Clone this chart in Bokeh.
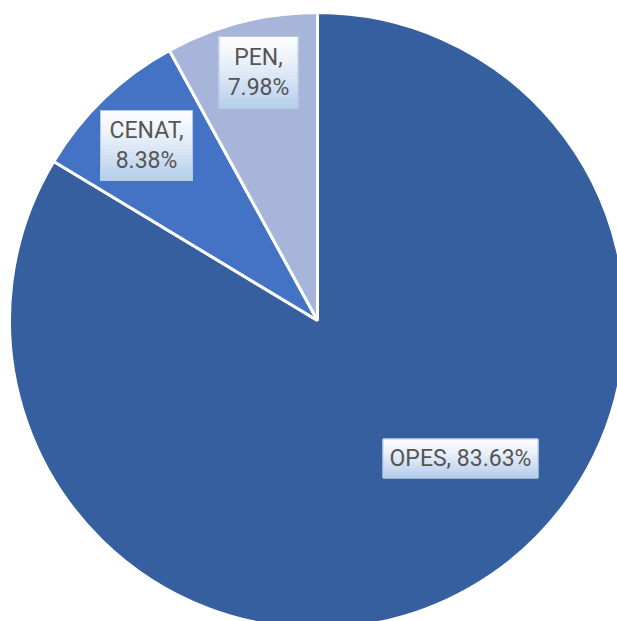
import math
from bokeh.plotting import figure
from bokeh.models import Range1d
from bokeh.core.properties import value
from bokeh.embed import file_html
from bokeh.resources import INLINE

# ---- data ----
categories = ["OPES", "CENAT", "PEN"]
shares = [83.63, 8.38, 7.98]
colors = ["#365F9F", "#4472C4", "#A7B5DA"]

# ---- layout (pixels inside the figure, y up) ----
W, H = 617, 621
CX, CY, R = 317, 301, 308
# label box centres and sizes (w, h)
label_pos = {"OPES": (460, 163), "CENAT": (146, 476), "PEN": (258, 549)}
label_size = {"OPES": (155, 39), "CENAT": (92, 70), "PEN": (79, 72)}
label_multiline = {"OPES": False, "CENAT": True, "PEN": True}

p = figure(width=W, height=H, x_range=Range1d(0, W), y_range=Range1d(0, H),
           output_backend="svg", toolbar_location=None, min_border=0)
p.axis.visible = False
p.grid.visible = False
p.outline_line_color = None
p.background_fill_color = "white"
p.border_fill_color = "white"

total = sum(shares)
starts, ends = [], []
a = math.pi / 2
for s in shares:
    starts.append(a)
    a = a - s / total * 2 * math.pi
    ends.append(a)

p.wedge(x=[CX] * len(shares), y=[CY] * len(shares), radius=R,
        start_angle=starts, end_angle=ends, direction="clock",
        fill_color=colors, line_color="white", line_width=3)

def lerp(c1, c2, t):
    return "#%02x%02x%02x" % tuple(int(round(c1[i] + (c2[i] - c1[i]) * t)) for i in range(3))

top_c = (252, 253, 255)
bot_c = (180, 205, 234)
n = 20
for cat, s in zip(categories, shares):
    x, y = label_pos[cat]
    w, h = label_size[cat]
    left, right = x - w / 2, x + w / 2
    top = y + h / 2
    lefts, rights, tops, bottoms, cols = [], [], [], [], []
    for i in range(n):
        t = (i + 0.5) / n
        t0 = top - h * i / n
        t1 = top - h * (i + 1) / n
        lefts.append(left); rights.append(right)
        tops.append(t0); bottoms.append(t1)
        cols.append(lerp(top_c, bot_c, t ** 1.3))
    p.quad(left=lefts, right=rights, top=tops, bottom=bottoms,
           fill_color=cols, line_color=cols, line_width=1)
    p.quad(left=[left], right=[right], top=[top], bottom=[y - h / 2],
           fill_color=None, line_color="#B7C8E2", line_width=1)
    sep = "\n" if label_multiline[cat] else " "
    txt = f"{cat},{sep}{s:.2f}%"
    p.text(x=[x], y=[y], text=[txt], text_align="center", text_baseline="middle",
           text_font=value("Roboto"), text_font_size="23px", text_color="#555555",
           text_line_height=1.13)

open("out.html", "w").write(file_html(p, INLINE))
